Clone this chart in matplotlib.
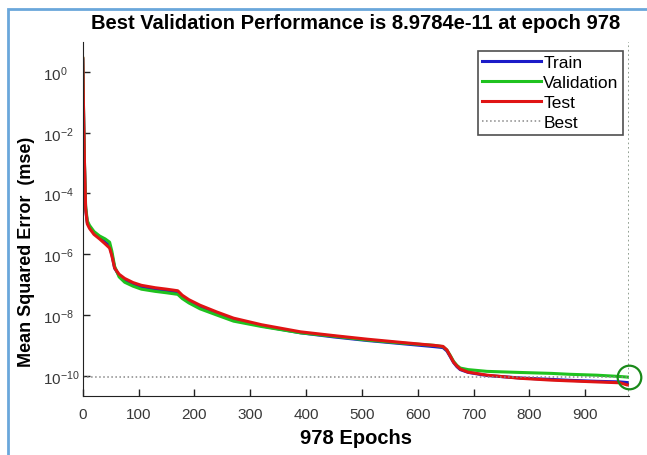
import matplotlib
matplotlib.use("Agg")
import matplotlib.pyplot as plt
from matplotlib.patches import Rectangle

plt.rcParams['font.family'] = ['Liberation Sans', 'DejaVu Sans']
plt.rcParams['mathtext.fontset'] = 'custom'
plt.rcParams['mathtext.rm'] = 'Liberation Sans'
plt.rcParams['mathtext.default'] = 'regular'

epochs = [0, 1, 2, 3, 5, 8, 12, 20, 30, 40, 48, 52, 57, 65, 75, 90, 105, 130, 150,
          170, 178, 190, 210, 240, 270, 320, 390, 450, 510, 570, 630, 645, 652, 658,
          664, 670, 676, 690, 724, 783, 840, 873, 920, 962, 975, 978]

train = [2.5, 0.1, 7.9e-3, 7.9e-4, 3.2e-5, 1.12e-5, 7.9e-6, 5.0e-6, 3.5e-6, 2.5e-6,
         1.9e-6, 1.0e-6, 3.5e-7, 2.0e-7, 1.35e-7, 1.02e-7, 8.3e-8, 6.9e-8, 6.2e-8,
         5.5e-8, 4.0e-8, 2.8e-8, 1.86e-8, 1.12e-8, 7.2e-9, 4.4e-9, 2.6e-9, 1.9e-9,
         1.45e-9, 1.15e-9, 9.1e-10, 8.5e-10, 6.6e-10, 4.3e-10, 2.75e-10, 2.0e-10,
         1.6e-10, 1.3e-10, 1.02e-10, 8.5e-11, 7.6e-11, 7.1e-11, 6.6e-11, 6.3e-11,
         6.0e-11, 6.0e-11]

validation = [2.8, 0.126, 0.01, 1e-3, 4.0e-5, 1.26e-5, 8.9e-6, 5.6e-6, 4.0e-6, 3.2e-6,
              2.5e-6, 1.26e-6, 4.0e-7, 1.8e-7, 1.2e-7, 8.9e-8, 7.1e-8, 6.0e-8, 5.4e-8,
              4.8e-8, 3.5e-8, 2.5e-8, 1.6e-8, 1.0e-8, 6.3e-9, 4.2e-9, 2.6e-9, 2.0e-9,
              1.5e-9, 1.2e-9, 1.0e-9, 9.1e-10, 7.1e-10, 4.7e-10, 3.0e-10, 2.2e-10,
              1.8e-10, 1.6e-10, 1.4e-10, 1.29e-10, 1.2e-10, 1.12e-10, 1.05e-10, 9.5e-11,
              9.1e-11, 8.9784e-11]

test = [2.8, 0.126, 0.01, 1e-3, 3.2e-5, 1.0e-5, 7.1e-6, 4.5e-6, 3.2e-6, 2.2e-6,
        1.6e-6, 8.9e-7, 3.5e-7, 2.2e-7, 1.6e-7, 1.17e-7, 9.5e-8, 7.9e-8, 7.1e-8,
        6.3e-8, 4.5e-8, 3.2e-8, 2.1e-8, 1.26e-8, 7.9e-9, 4.8e-9, 2.8e-9, 2.1e-9,
        1.6e-9, 1.26e-9, 1.0e-9, 9.3e-10, 7.1e-10, 4.5e-10, 2.8e-10, 2.1e-10,
        1.66e-10, 1.32e-10, 1.05e-10, 8.3e-11, 7.2e-11, 6.8e-11, 6.3e-11, 5.9e-11,
        5.0e-11, 5.0e-11]

best_epoch = 978
best_perf = 8.9784e-11

yticks = [1e0, 1e-2, 1e-4, 1e-6, 1e-8, 1e-10]
ytick_labels = ['$10^{0}$', '$10^{-2}$', '$10^{-4}$', '$10^{-6}$', '$10^{-8}$', '$10^{-10}$']
xticks = [0, 100, 200, 300, 400, 500, 600, 700, 800, 900]

fig = plt.figure(figsize=(6.47, 4.56), dpi=100)
ax = fig.add_axes([0.128, 0.129, 0.844, 0.777])

ax.semilogy(epochs, train, color='#1c1cc8', lw=2.2, label='Train')
ax.semilogy(epochs, validation, color='#1fc21f', lw=2.2, label='Validation')
ax.semilogy(epochs, test, color='#e01414', lw=2.2, label='Test')
ax.axhline(best_perf, color='#888888', ls=':', lw=1.1, label='Best')
ax.axvline(best_epoch, color='#7f8f7f', ls=':', lw=1.2)
ax.plot([best_epoch], [best_perf], 'o', mfc='none', mec='#1a8a1a', ms=17, mew=1.6,
        clip_on=False, zorder=5)

ax.set_xlim(0, best_epoch)
ax.set_ylim(10 ** -10.67, 10 ** 0.99)
ax.set_yticks(yticks)
ax.set_yticklabels(ytick_labels)
ax.yaxis.set_minor_locator(matplotlib.ticker.NullLocator())
ax.set_xticks(xticks)
ax.tick_params(direction='in', labelsize=11, colors='#222222', labelcolor='#383838',
               length=5, width=1)
ax.tick_params(axis='y', pad=29)
ax.tick_params(axis='x', pad=8)
for s in ['top', 'right']:
    ax.spines[s].set_visible(False)
for s in ['left', 'bottom']:
    ax.spines[s].set_color('#222222')

ax.set_title('Best Validation Performance is 8.9784e-11 at epoch 978',
             fontsize=14.5, fontweight='bold', pad=10)
ax.set_xlabel('978 Epochs', fontsize=14.5, fontweight='bold', labelpad=5)
ax.set_ylabel('Mean Squared Error  (mse)', fontsize=13, fontweight='bold')
ax.yaxis.set_label_coords(-0.088, 0.41)

leg = ax.legend(loc='upper right', bbox_to_anchor=(0.989, 0.975), fontsize=12.5,
                frameon=True, fancybox=False, edgecolor='#222222', handlelength=3.4,
                borderpad=0.25, labelspacing=0.28, handletextpad=0.12, borderaxespad=0)
leg.get_frame().set_linewidth(1.2)

fig.patches.append(Rectangle((0.0124, -0.01), 1.1, 0.988, transform=fig.transFigure,
                             fill=False, edgecolor='#6aa7db', lw=2))

fig.canvas.draw()
plt.setp(ax.get_yticklabels(), ha='left')

fig.savefig('out.png', dpi=100)
